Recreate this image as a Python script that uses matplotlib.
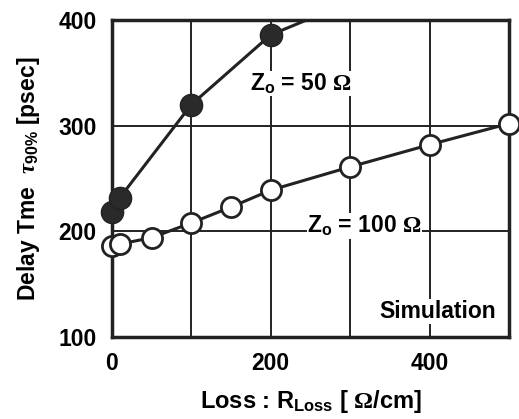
import numpy as np
import matplotlib
matplotlib.use('Agg')
import matplotlib.pyplot as plt

plt.rcParams['font.family'] = ['Liberation Sans', 'DejaVu Sans']
plt.rcParams['font.weight'] = 'bold'
plt.rcParams['axes.labelweight'] = 'bold'
plt.rcParams['mathtext.fontset'] = 'custom'
plt.rcParams['mathtext.rm'] = 'Liberation Sans:bold'
plt.rcParams['mathtext.it'] = 'Liberation Serif:italic'
plt.rcParams['mathtext.bf'] = 'Liberation Sans:bold'
plt.rcParams['mathtext.cal'] = 'Liberation Serif'

# Z0 = 50 ohm (filled)
loss_50 = [0, 10, 100, 200, 300]
delay_50 = [218, 232, 320, 386, 417]

# Z0 = 100 ohm (open)
loss_100 = [0, 10, 50, 100, 150, 200, 300, 400, 500]
delay_100 = [186, 188, 194, 208, 223, 239, 261, 282, 302]

x_ticks = [0, 200, 400]
y_ticks = [100, 200, 300, 400]


def main():
    fig = plt.figure(figsize=(5.19, 4.19), dpi=100)
    ax = fig.add_axes([112 / 519, 82 / 419, 397 / 519, 317 / 419])

    ax.set_xlim(0, 500)
    ax.set_ylim(100, 400)
    ax.set_xticks(x_ticks)
    ax.set_yticks(y_ticks)
    ax.set_xticks(np.arange(0, 501, 100), minor=True)
    ax.grid(True, which='both', axis='x', color='#222222', linewidth=1.4)
    ax.grid(True, which='major', axis='y', color='#222222', linewidth=1.4)
    ax.tick_params(which='both', length=0, labelsize=16.5, pad=11)
    for s in ax.spines.values():
        s.set_linewidth(2.5)
        s.set_color('#222222')
    ax.set_axisbelow(True)

    x50 = np.array(loss_50)
    y50 = np.array(delay_50)
    ax.plot(x50, y50, color='#222222', linewidth=2.2, zorder=3)
    m = y50 <= 400
    ax.plot(x50[m], y50[m], 'o', color='#2a2a2a', markersize=16,
            markeredgecolor='#222222', clip_on=False, zorder=4)

    ax.plot(loss_100, delay_100, color='#222222', linewidth=2.2, zorder=3)
    ax.plot(loss_100, delay_100, 'o', markerfacecolor='white',
            markeredgecolor='#222222', markeredgewidth=2, markersize=14.5,
            clip_on=False, zorder=4)

    box = dict(facecolor='white', edgecolor='none', pad=0.5)
    ax.text(174, 340, r'Z$_\mathrm{o}$ = 50 $\mathcal{\Omega}$', fontsize=16.5,
            ha='left', va='center', bbox=box, zorder=5)
    ax.text(246, 205, r'Z$_\mathrm{o}$ = 100 $\mathcal{\Omega}$', fontsize=16.5,
            ha='left', va='center', bbox=box, zorder=5)
    ax.text(483, 124, 'Simulation', fontsize=16.5, ha='right', va='center',
            bbox=box, zorder=5)

    ax.set_xlabel(r'Loss : R$_\mathrm{Loss}$ [ $\mathcal{\Omega}$/cm]',
                  fontsize=17, labelpad=9)
    ax.set_ylabel(r'Delay Tme  $\tau_{\mathrm{90\%}}$ [psec]', fontsize=16.5,
                  labelpad=12)

    fig.savefig('out.png', dpi=100)
    plt.close()


if __name__ == '__main__':
    main()
